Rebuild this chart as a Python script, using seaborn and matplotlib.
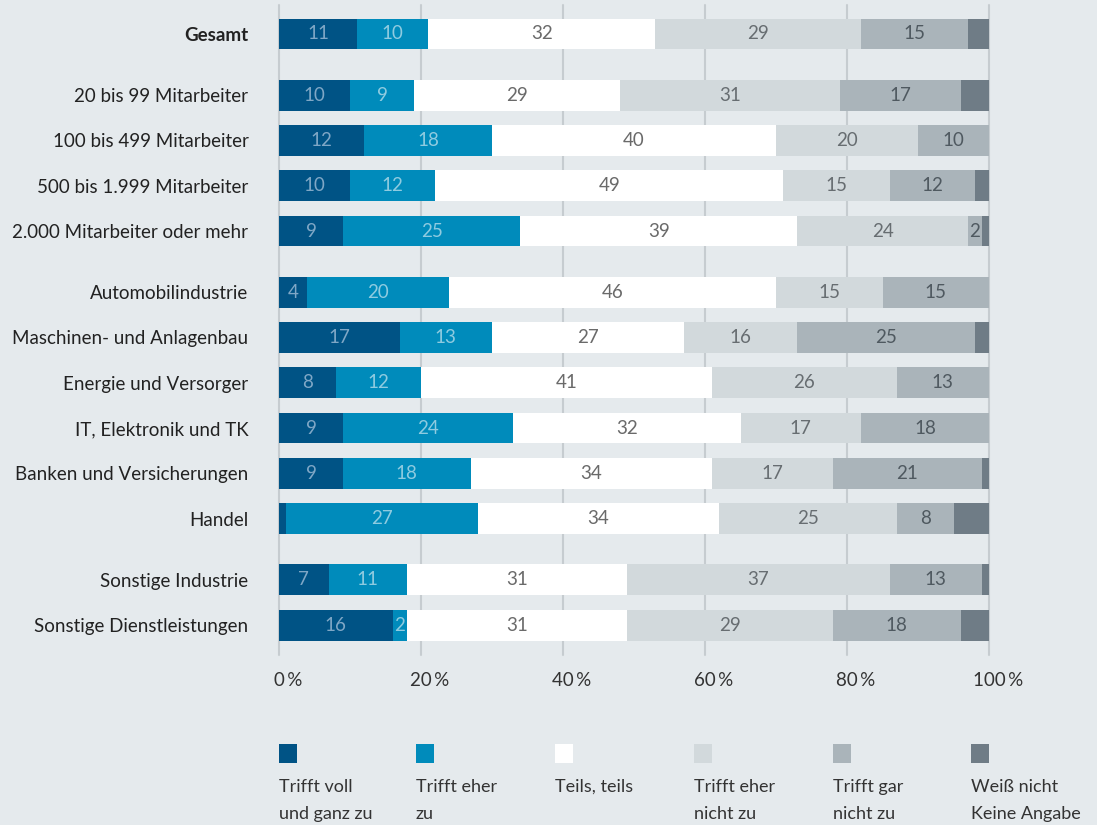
import numpy as np
import pandas as pd
import matplotlib
matplotlib.use("Agg")
import matplotlib.pyplot as plt
from matplotlib.patches import Rectangle
import seaborn as sns

categories = ["Gesamt", "20 bis 99 Mitarbeiter", "100 bis 499 Mitarbeiter",
              "500 bis 1.999 Mitarbeiter", "2.000 Mitarbeiter oder mehr",
              "Automobilindustrie", "Maschinen- und Anlagenbau", "Energie und Versorger",
              "IT, Elektronik und TK", "Banken und Versicherungen", "Handel",
              "Sonstige Industrie", "Sonstige Dienstleistungen"]
trifft_voll = [11, 10, 12, 10, 9, 4, 17, 8, 9, 9, 1, 7, 16]
trifft_eher = [10, 9, 18, 12, 25, 20, 13, 12, 24, 18, 27, 11, 2]
teils = [32, 29, 40, 49, 39, 46, 27, 41, 32, 34, 34, 31, 31]
eher_nicht = [29, 31, 20, 15, 24, 15, 16, 26, 17, 17, 25, 37, 29]
gar_nicht = [15, 17, 10, 12, 2, 15, 25, 13, 18, 21, 8, 13, 18]
weiss_nicht = [3, 4, 0, 2, 1, 0.5, 2, 0.5, 0, 1.5, 5, 1, 4]
series_names = ["Trifft voll\nund ganz zu", "Trifft eher\nzu", "Teils, teils",
                "Trifft eher\nnicht zu", "Trifft gar\nnicht zu", "Weiß nicht\nKeine Angabe"]
tick_values = [0, 20, 40, 60, 80, 100]
tick_labels = ["0\u2009%", "20\u2009%", "40\u2009%", "60\u2009%", "80\u2009%", "100\u2009%"]

colors = ["#005385", "#008bbb", "#ffffff", "#d2d9dc", "#aab4ba", "#6f7c86"]
label_colors = ["#7fa7c6", "#8fcbe0", "#6a6a6a", "#676d71", "#4f5960", "#ffffff"]
bg = "#e5eaed"

ypos = [0, 1.35, 2.35, 3.35, 4.35, 5.7, 6.7, 7.7, 8.7, 9.7, 10.7, 12.05, 13.05]

sns.set_theme(style="white")
plt.rcParams["font.family"] = ["Lato", "DejaVu Sans"]

fig = plt.figure(figsize=(10.97, 8.25), dpi=100, facecolor=bg)
ax = fig.add_axes([279 / 1097, 1 - 655 / 825, 710 / 1097, 650 / 825])
ax.set_facecolor(bg)

vals = np.array([trifft_voll, trifft_eher, teils, eher_nicht, gar_nicht, weiss_nicht], dtype=float)
cum = np.cumsum(vals, axis=0)

for x in tick_values:
    ax.axvline(x, color="#c6ccd0", lw=1.5, zorder=0, clip_on=False)

for k in range(5, -1, -1):
    df = pd.DataFrame({"y": ypos, "x": cum[k]})
    sns.barplot(data=df, x="x", y="y", orient="h", native_scale=True,
                color=colors[k], saturation=1, width=0.68, linewidth=0,
                errorbar=None, ax=ax, zorder=2)

for i, y in enumerate(ypos):
    for k in range(5):
        v = vals[k, i]
        if v >= 2:
            center = cum[k, i] - v / 2
            ax.text(center, y, f"{int(v)}", ha="center", va="center",
                    fontsize=13.5, color=label_colors[k], zorder=3)

ax.set_xlim(0, 100)
ax.set_ylim(13.71, -0.64)
ax.set_xticks(tick_values)
ax.set_xticklabels([])
trans = ax.get_xaxis_transform()
for x, lbl in zip(tick_values, tick_labels):
    ax.annotate(lbl, xy=(x, 0), xycoords=trans, xytext=(6.5, -18),
                textcoords="offset points", ha="center", va="center",
                fontsize=13.5, color="#333333", annotation_clip=False)
ax.set_yticks(ypos)
ax.set_yticklabels(categories, fontsize=13.5, color="#222222")
ax.get_yticklabels()[0].set_fontweight("bold")
ax.tick_params(axis="y", length=0, pad=22)
ax.tick_params(axis="x", length=0)
ax.set_xlabel("")
ax.set_ylabel("")
for s in ax.spines.values():
    s.set_visible(False)

legend_x = [279, 416, 555, 694, 833, 971]
for k, lx in enumerate(legend_x):
    fig.patches.append(Rectangle((lx / 1097, 1 - 763 / 825), 18 / 1097, 19 / 825,
                                 transform=fig.transFigure, facecolor=colors[k],
                                 edgecolor="none"))
    fig.text(lx / 1097, 1 - 779 / 825, series_names[k], ha="left", va="top",
             fontsize=13, color="#333333", linespacing=1.85)

fig.savefig("out.png", dpi=100, facecolor=bg)
